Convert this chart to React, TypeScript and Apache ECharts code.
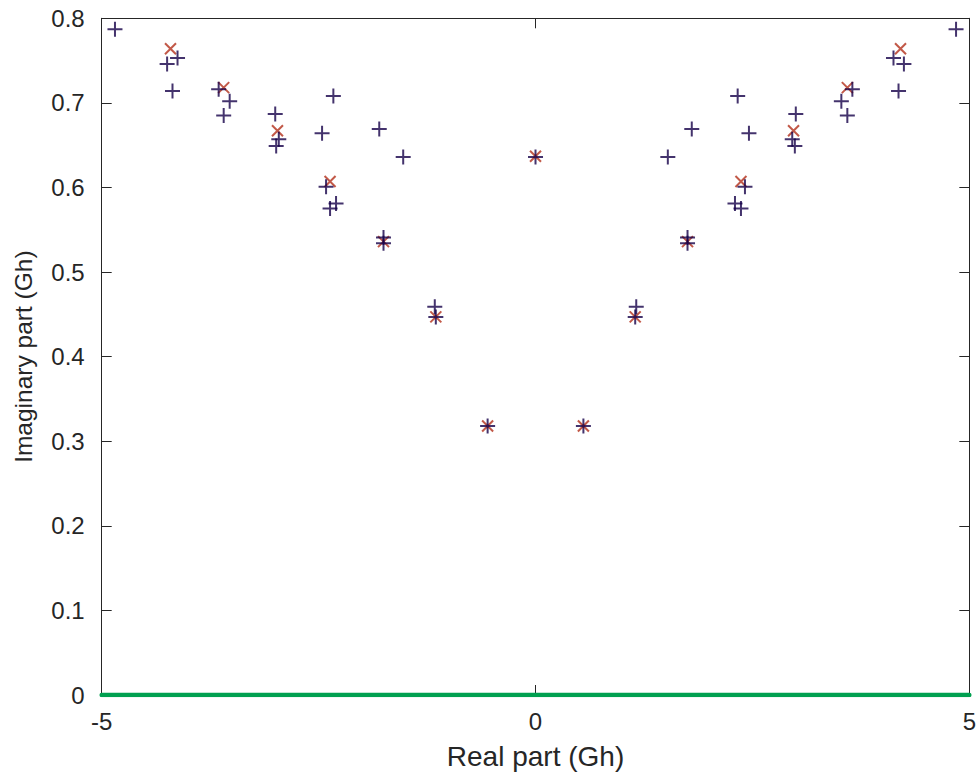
import React, { useEffect, useRef } from "react";
import * as echarts from "echarts";

// Blue "+" markers: [real, imaginary]
const bluePoints: [number, number][] = [
  [-4.847, 0.787], [-4.246, 0.746], [-4.126, 0.753], [-4.184, 0.714],
  [-3.652, 0.716], [-3.525, 0.702], [-3.594, 0.685],
  [-3.0, 0.687], [-2.959, 0.657], [-2.989, 0.649],
  [-2.46, 0.664], [-2.33, 0.708], [-2.414, 0.601], [-2.368, 0.575], [-2.299, 0.581],
  [-1.801, 0.669], [-1.525, 0.636], [-1.752, 0.541], [-1.752, 0.534],
  [-1.161, 0.459], [-1.149, 0.447], [-0.552, 0.318],
  [0, 0.636],
  [0.552, 0.318], [1.149, 0.447], [1.161, 0.459],
  [1.752, 0.534], [1.752, 0.541], [1.525, 0.636], [1.801, 0.669],
  [2.299, 0.581], [2.368, 0.575], [2.414, 0.601], [2.33, 0.708], [2.46, 0.664],
  [2.989, 0.649], [2.959, 0.657], [3.0, 0.687],
  [3.594, 0.685], [3.525, 0.702], [3.652, 0.716],
  [4.184, 0.714], [4.126, 0.753], [4.246, 0.746], [4.847, 0.787],
];

// Red "x" markers: [real, imaginary]
const redPoints: [number, number][] = [
  [-4.207, 0.764], [-3.594, 0.718], [-2.974, 0.667], [-2.368, 0.607],
  [-1.752, 0.536], [-1.149, 0.447], [-0.552, 0.318], [0, 0.637],
  [0.552, 0.318], [1.149, 0.447], [1.752, 0.536], [2.368, 0.607],
  [2.974, 0.667], [3.594, 0.718], [4.207, 0.764],
];

// Green real-axis line
const realAxisLine: [number, number][] = [[-5, 0], [5, 0]];

const xTickInterval = 5;
const yTickInterval = 0.1;

const AXIS_COLOR = "#262626";
const FONT = "Liberation Sans, Arial, Helvetica, sans-serif";

export default function App() {
  const ref = useRef<HTMLDivElement>(null);
  useEffect(() => {
    document.body.style.margin = "0";
    if (!ref.current) return;
    const chart = echarts.init(ref.current, undefined, { renderer: "svg" });
    const axisCommon = {
      axisLine: { show: true, onZero: false, lineStyle: { color: AXIS_COLOR, width: 1 } },
      axisTick: { show: true, inside: true, length: 10, lineStyle: { color: AXIS_COLOR, width: 1 } },
      splitLine: { show: false },
    };
    chart.setOption({
      animation: false,
      backgroundColor: "#ffffff",
      grid: { left: 101.7, right: 7.3, top: 18.3, bottom: 81, containLabel: false },
      xAxis: [
        {
          type: "value",
          min: -5,
          max: 5,
          interval: xTickInterval,
          position: "bottom",
          ...axisCommon,
          axisLabel: { color: AXIS_COLOR, fontSize: 24, fontFamily: FONT, margin: 14 },
          name: "Real part (Gh)",
          nameLocation: "middle",
          nameGap: 47,
          nameTextStyle: { color: AXIS_COLOR, fontSize: 28, fontFamily: FONT },
        },
        {
          type: "value",
          min: -5,
          max: 5,
          interval: xTickInterval,
          position: "top",
          ...axisCommon,
          axisLabel: { show: false },
        },
      ],
      yAxis: [
        {
          type: "value",
          min: 0,
          max: 0.8,
          interval: yTickInterval,
          position: "left",
          ...axisCommon,
          axisLabel: { color: AXIS_COLOR, fontSize: 24, fontFamily: FONT, margin: 17 },
          name: "Imaginary part (Gh)",
          nameLocation: "middle",
          nameGap: 66,
          nameTextStyle: { color: AXIS_COLOR, fontSize: 24.5, fontFamily: FONT },
        },
        {
          type: "value",
          min: 0,
          max: 0.8,
          interval: yTickInterval,
          position: "right",
          ...axisCommon,
          axisLabel: { show: false },
        },
      ],
      series: [
        {
          type: "scatter",
          data: redPoints,
          symbol: "path://M0,0L10,10M10,0L0,10",
          symbolSize: 11,
          itemStyle: { color: "none", borderColor: "#b3301a", borderWidth: 2 },
          z: 3,
        },
        {
          type: "scatter",
          data: bluePoints,
          symbol: "path://M0,5L10,5M5,0L5,10",
          symbolSize: 15,
          itemStyle: { color: "none", borderColor: "#150048", borderWidth: 2 },
          z: 4,
        },
        {
          type: "line",
          data: realAxisLine,
          showSymbol: false,
          symbol: "none",
          lineStyle: { color: "#00a050", width: 4.5, cap: "round" },
          z: 5,
        },
      ],
    });
    return () => chart.dispose();
  }, []);
  return <div ref={ref} style={{ width: 979, height: 776 }} />;
}
